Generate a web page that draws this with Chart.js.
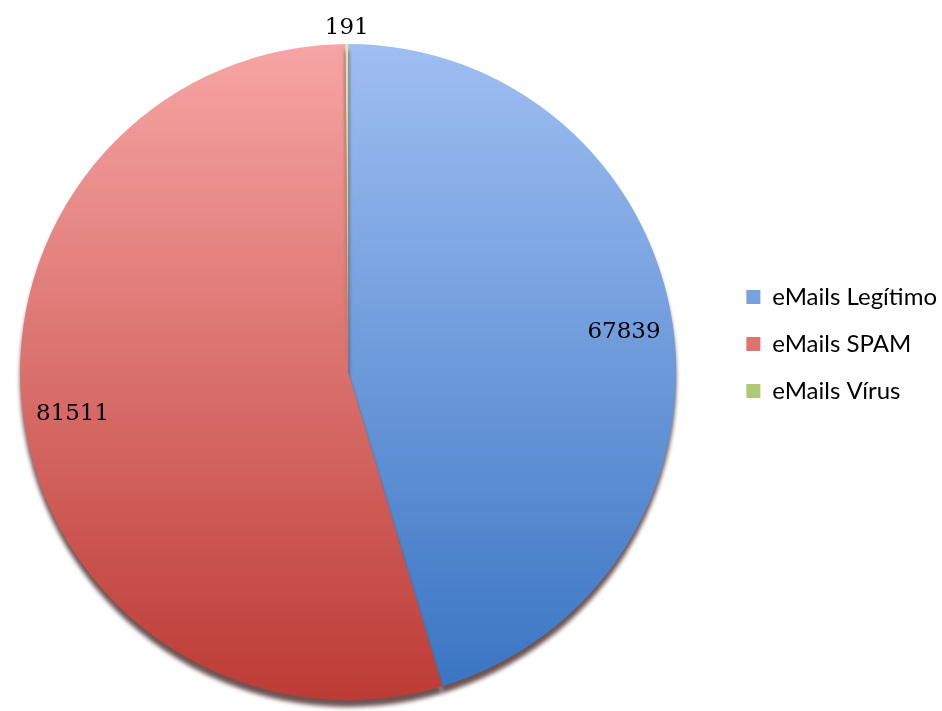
<!DOCTYPE html>
<html>
<head>
<meta charset="utf-8">
<script src="https://cdn.jsdelivr.net/npm/chart.js@4.4.0/dist/chart.umd.min.js"></script>
<style>
    html, body { margin: 0; padding: 0; background: #fff; overflow: hidden; }
    #contenedor { width: 960px; height: 711px; margin-left: -18px; }
</style>
</head>
<body>
<div id="contenedor"><canvas id="canvaEmails"></canvas></div>
<script>
// datos
const categorias = ["eMails Legítimo", "eMails SPAM", "eMails Vírus"];
const valores = [67839, 81511, 191];
// colores: arriba (claro) y abajo (oscuro) de cada porcion
const coloresArriba = ["#9fbef2", "#f6a5a4", "#d9eaa8"];
const coloresAbajo = ["#3874c2", "#bd3b35", "#8cad47"];

function degradado(context) {
    const chart = context.chart;
    const area = chart.chartArea;
    if (!area) return coloresAbajo[context.dataIndex];
    const g = chart.ctx.createLinearGradient(0, area.top, 0, area.bottom);
    g.addColorStop(0, coloresArriba[context.dataIndex]);
    g.addColorStop(1, coloresAbajo[context.dataIndex]);
    return g;
}

// sombra debajo del pastel
const sombraPastel = {
    id: "sombraPastel",
    beforeDatasetDraw(chart) {
        const ctx = chart.ctx;
        ctx.save();
        ctx.shadowColor = "rgba(50,10,10,0.7)";
        ctx.shadowBlur = 4;
        ctx.shadowOffsetY = 7;
    },
    afterDatasetDraw(chart) {
        chart.ctx.restore();
    }
};

// acomoda la leyenda como en el original
const moverLeyenda = {
    id: "moverLeyenda",
    afterLayout(chart) {
        chart.legend.top -= 28;
        chart.legend.bottom -= 28;
        chart.legend.left += 9;
        chart.legend.right += 9;
    }
};

// etiquetas con los valores
const etiquetasValores = {
    id: "etiquetasValores",
    afterDatasetsDraw(chart) {
        const ctx = chart.ctx;
        const meta = chart.getDatasetMeta(0);
        const total = valores.reduce((a, b) => a + b, 0);
        ctx.save();
        ctx.font = "23px 'DejaVu Serif'";
        ctx.fillStyle = "#000";
        ctx.textAlign = "center";
        ctx.textBaseline = "middle";
        meta.data.forEach((arc, i) => {
            const p = arc.getProps(["x", "y", "startAngle", "endAngle", "outerRadius"], true);
            const medio = (p.startAngle + p.endAngle) / 2;
            let r = p.outerRadius * 0.85;
            if (valores[i] / total < 0.02) r = p.outerRadius + 16;
            ctx.fillText(String(valores[i]), p.x + Math.cos(medio) * r, p.y + Math.sin(medio) * r);
        });
        ctx.restore();
    }
};

new Chart(document.getElementById("canvaEmails"), {
    type: "pie",
    data: {
        labels: categorias,
        datasets: [{
            data: valores,
            backgroundColor: degradado,
            borderWidth: 0
        }]
    },
    options: {
        responsive: true,
        maintainAspectRatio: false,
        animation: false,
        layout: {
            padding: { top: 44, bottom: 11, left: 0, right: 4 }
        },
        plugins: {
            tooltip: { enabled: false },
            legend: {
                position: "right",
                labels: {
                    font: { family: "Lato", size: 24 },
                    color: "#000",
                    boxWidth: 14,
                    boxHeight: 14,
                    padding: 23
                }
            }
        }
    },
    plugins: [sombraPastel, moverLeyenda, etiquetasValores]
});
</script>
</body>
</html>
